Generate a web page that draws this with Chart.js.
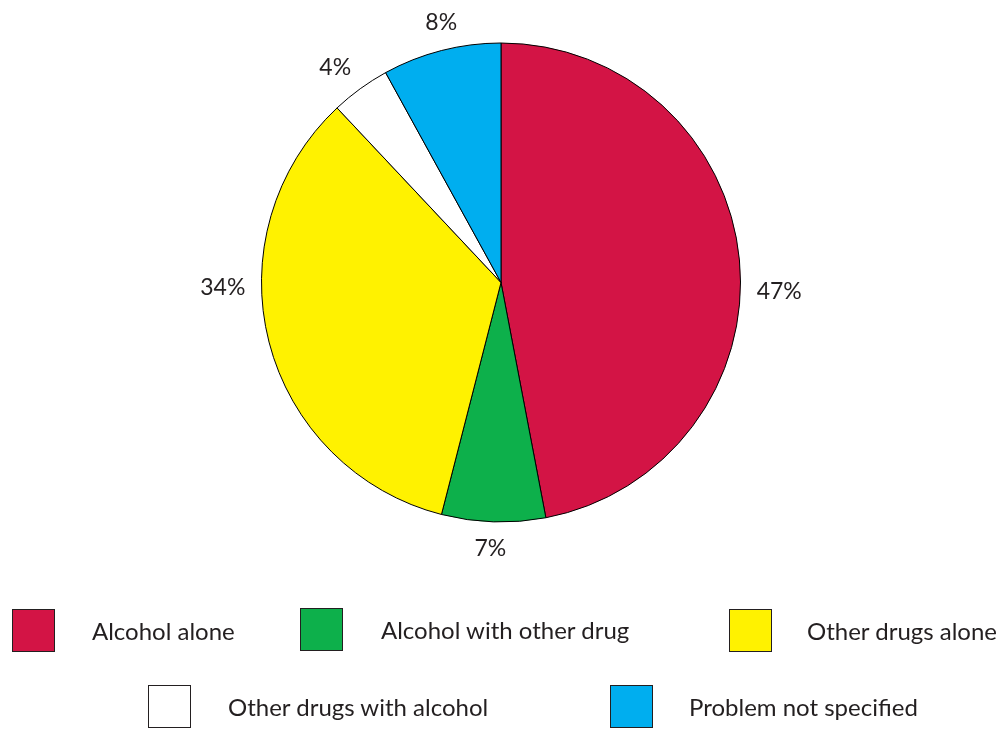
<!DOCTYPE html>
<html>
<head>
<meta charset="utf-8">
<script src="https://cdn.jsdelivr.net/npm/chart.js@4/dist/chart.umd.min.js"></script>
<style>
  html, body { margin: 0; padding: 0; background: #fff; }
  #wrap { position: relative; width: 1003px; height: 731px; font-family: Lato, "Open Sans", sans-serif; color: #231f20; }
  #pie { position: absolute; left: 0; top: 0; }
  .key { position: absolute; display: flex; align-items: center; font-size: 24px; white-space: nowrap; }
  .key span.box { display: inline-block; width: 41px; height: 41px; border: 1px solid #231f20; }
</style>
</head>
<body>
<div id="wrap">
  <canvas id="pie" width="1003" height="731"></canvas>
  <div id="legend"></div>
</div>
<script>
const categories = ['Alcohol alone', 'Alcohol with other drug', 'Other drugs alone', 'Other drugs with alcohol', 'Problem not specified'];
const shares = [47, 7, 34, 4, 8];
const sliceColors = ['#D31445', '#0DB04B', '#FFF200', '#FFFFFF', '#00AEEF'];

// legend layout (box left, box top, gap to text)
const legendSlots = [
  { x: 12,  y: 609, gap: 37 },
  { x: 300, y: 608, gap: 38 },
  { x: 729, y: 609, gap: 35 },
  { x: 148, y: 685, gap: 37 },
  { x: 610, y: 685, gap: 36 },
];

// small angular nudges (degrees) for the outside percent labels
const labelNudge = [7, 0.5, 13.5, -1.5, 1.5];

const outsideLabels = {
  id: 'outsideLabels',
  afterDatasetsDraw(chart) {
    const ctx = chart.ctx;
    const meta = chart.getDatasetMeta(0);
    ctx.save();
    ctx.font = '23px Lato, "Open Sans", sans-serif';
    ctx.fillStyle = '#231f20';
    ctx.textAlign = 'center';
    ctx.textBaseline = 'middle';
    meta.data.forEach((arc, i) => {
      const text = shares[i] + '%';
      const mid = (arc.startAngle + arc.endAngle) / 2 + labelNudge[i] * Math.PI / 180;
      const w = ctx.measureText(text).width;
      const r = arc.outerRadius + 16 + (w / 2) * Math.abs(Math.cos(mid)) + 9 * Math.abs(Math.sin(mid));
      ctx.fillText(text, arc.x + Math.cos(mid) * r, arc.y + Math.sin(mid) * r + 1);
    });
    ctx.restore();
  }
};

new Chart(document.getElementById('pie'), {
  type: 'pie',
  data: {
    labels: categories,
    datasets: [{
      data: shares,
      backgroundColor: sliceColors,
      borderColor: '#000',
      borderWidth: 1,
    }],
  },
  options: {
    responsive: false,
    animation: false,
    layout: { padding: { top: 42, bottom: 208, left: 261, right: 262 } },
    plugins: {
      legend: { display: false },
      tooltip: { enabled: false },
    },
  },
  plugins: [outsideLabels],
});

// legend
const legendEl = document.getElementById('legend');
categories.forEach((name, i) => {
  const slot = legendSlots[i];
  const item = document.createElement('div');
  item.className = 'key';
  item.style.left = slot.x + 'px';
  item.style.top = slot.y + 'px';
  item.innerHTML = `<span class="box" style="background:${sliceColors[i]}"></span><span style="margin-left:${slot.gap}px">${name}</span>`;
  legendEl.appendChild(item);
});
</script>
</body>
</html>
